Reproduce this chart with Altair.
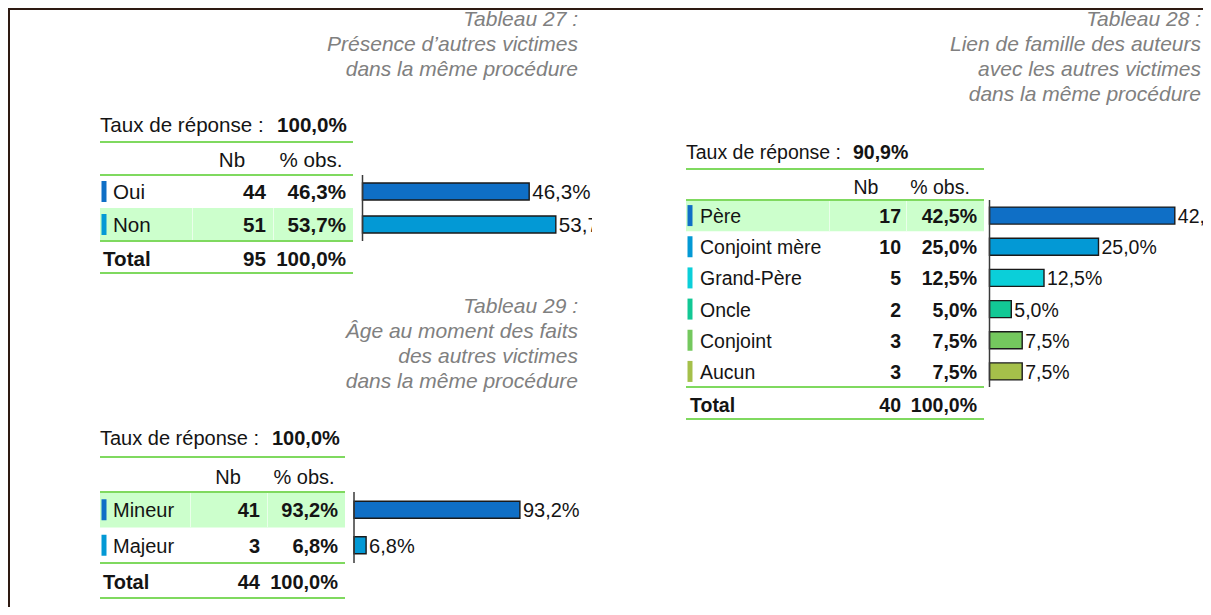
import altair as alt
import pandas as pd

# ---------------- data ----------------
t27_title = ["Tableau 27 :", "Présence d’autres victimes", "dans la même procédure"]
t27_cats = ["Oui", "Non"]
t27_nb = [44, 51]
t27_pct = [46.3, 53.7]
t27_rate = 100.0

t28_title = ["Tableau 28 :", "Lien de famille des auteurs", "avec les autres victimes",
             "dans la même procédure"]
t28_cats = ["Père", "Conjoint mère", "Grand-Père", "Oncle", "Conjoint", "Aucun"]
t28_nb = [17, 10, 5, 2, 3, 3]
t28_pct = [42.5, 25.0, 12.5, 5.0, 7.5, 7.5]
t28_rate = 90.9

t29_title = ["Tableau 29 :", "Âge au moment des faits", "des autres victimes",
             "dans la même procédure"]
t29_cats = ["Mineur", "Majeur"]
t29_nb = [41, 3]
t29_pct = [93.2, 6.8]
t29_rate = 100.0

header_labels = ["Nb", "% obs."]
rate_label = "Taux de réponse :"
total_label = "Total"

# ---------------- styles ----------------
PALETTE = ["#0f6fc6", "#0399d5", "#0bcfd9", "#12c895", "#74c85e", "#a5c04a"]
GREEN = "#7fd95f"
HL = "#ccffcc"
TXT = "#141414"
TITLE = "#808080"
FONT = "Liberation Sans"
O = 8      # page margin offset
DY = 1.5   # small vertical nudge for text


def fmt(v):
    return f"{v:.1f}%".replace(".", ",")


ONE = pd.DataFrame({"k": [0]})


def label(text, x, y, size, bold=False, italic=False, align="left", color=TXT):
    return alt.Chart(ONE).mark_text(
        font=FONT, fontSize=size, fontWeight="bold" if bold else "normal",
        fontStyle="italic" if italic else "normal", align=align,
        baseline="middle", color=color, dy=DY,
    ).encode(x=alt.value(x - O), y=alt.value(y - O), text=alt.value(text))


def hline(x0, x1, y, color=GREEN, w=2):
    return alt.Chart(ONE).mark_rule(color=color, strokeWidth=w).encode(
        x=alt.value(x0 - O), x2=alt.value(x1 - O), y=alt.value(y - O))


def vline(x, y0, y1, color="#3a3a3a", w=1.5):
    return alt.Chart(ONE).mark_rule(color=color, strokeWidth=w).encode(
        x=alt.value(x - O), y=alt.value(y0 - O), y2=alt.value(y1 - O))


def table(title, cats, nb, pct, rate, L):
    fs = L["fs"]
    df = pd.DataFrame({"cat": cats, "nb": nb, "pct": pct})
    df["nb_s"] = df["nb"].astype(str)
    df["pct_s"] = [fmt(v) for v in pct]
    df["hl"] = df["nb"] == df["nb"].max()

    yb = alt.Y("cat:N", sort=None, axis=None,
               scale=alt.Scale(type="band", domain=cats,
                               range=[L["band"][0] - O, L["band"][1] - O],
                               paddingInner=0, paddingOuter=0))
    col = alt.Color("cat:N", legend=None,
                    scale=alt.Scale(domain=cats, range=PALETTE[:len(cats)]))
    xb = alt.X("pct:Q", axis=None,
               scale=alt.Scale(domain=[0, 100], nice=False, zero=True,
                               range=[L["ax"] - O, L["ax"] - O + 100 * L["ppp"]]))
    base = alt.Chart(df)
    layers = []
    # title lines
    for i, t in enumerate(title):
        layers.append(label(t, L["title_x"], L["title_y"] + 25 * i, 21,
                            italic=True, align="right", color=TITLE))
    # response rate
    layers.append(label(rate_label, L["x0"], L["rate_y"], fs))
    layers.append(label(fmt(rate), L["rate_vx"], L["rate_y"], fs, bold=True))
    # header
    layers.append(label(header_labels[0], L["hdr_nb"], L["hdr_y"], fs, align="center"))
    layers.append(label(header_labels[1], L["hdr_pct"], L["hdr_y"], fs, align="center"))
    # highlight row (modal category)
    hl = base.transform_filter("datum.hl")
    layers.append(hl.mark_rect(color=HL).encode(
        x=alt.value(L["x0"] - O), x2=alt.value(L["x1"] - O), y=yb))
    for sx in L["seps"]:
        layers.append(hl.mark_rect(color="#eaffea").encode(
            x=alt.value(sx - O), x2=alt.value(sx + 1 - O), y=yb))
    # green lines
    for yy in L["lines"]:
        layers.append(hline(L["x0"], L["x1"], yy))
    # markers
    layers.append(base.mark_bar(height=21, orient="horizontal").encode(
        x=alt.value(L["mk"] - O), x2=alt.value(L["mk"] + 5 - O), y=yb, color=col))
    # labels
    layers.append(base.mark_text(font=FONT, fontSize=fs, align="left", baseline="middle",
                                 color=TXT, dy=DY).encode(
        x=alt.value(L["lab"] - O), y=yb, text="cat:N"))
    layers.append(base.mark_text(font=FONT, fontSize=fs, fontWeight="bold", align="right",
                                 baseline="middle", color=TXT, dy=DY).encode(
        x=alt.value(L["nb_r"] - O), y=yb, text="nb_s:N"))
    layers.append(base.mark_text(font=FONT, fontSize=fs, fontWeight="bold", align="right",
                                 baseline="middle", color=TXT, dy=DY).encode(
        x=alt.value(L["pct_r"] - O), y=yb, text="pct_s:N"))
    # total row
    layers.append(label(total_label, L["tot_x"], L["tot_y"], fs, bold=True))
    layers.append(label(str(sum(nb)), L["nb_r"], L["tot_y"], fs, bold=True, align="right"))
    layers.append(label(fmt(round(sum(pct), 1)), L["pct_r"], L["tot_y"], fs, bold=True,
                        align="right"))
    # bars
    layers.append(base.mark_bar(height=17, stroke="#1a1a1a", strokeWidth=1.4).encode(
        x=xb, y=yb, color=col))
    layers.append(base.mark_text(font=FONT, fontSize=fs, align="left", baseline="middle",
                                 dx=3, dy=DY, color=TXT).encode(
        x=xb, y=yb, text="pct_s:N"))
    layers.append(vline(L["ax"], L["band"][0], L["band"][1]))
    # clipping edge of the original table picture
    if L.get("mask"):
        m = L["mask"]
        layers.append(alt.Chart(ONE).mark_rect(color="white").encode(
            x=alt.value(m[0] - O), x2=alt.value(m[1] - O),
            y=alt.value(m[2] - O), y2=alt.value(m[3] - O)))
    return layers


L27 = dict(fs=20.6, title_x=578, title_y=18, x0=100, x1=353, rate_y=124, rate_vx=277,
           hdr_y=159, hdr_nb=232, hdr_pct=311, lines=[142, 175, 241, 273],
           band=(175, 241), mk=101.5, lab=113, nb_r=266, pct_r=346, tot_x=103, tot_y=258,
           ax=362.5, ppp=3.6, seps=[192, 273], mask=(592, 660, 176, 241))
L29 = dict(fs=20, title_x=578, title_y=305, x0=100, x1=345, rate_y=437, rate_vx=272,
           hdr_y=476, hdr_nb=228, hdr_pct=304, lines=[457, 492, 563, 598],
           band=(492, 563), mk=101.5, lab=113, nb_r=260, pct_r=338, tot_x=103, tot_y=581,
           ax=354, ppp=1.78, seps=[190, 267])
L28 = dict(fs=19.5, title_x=1201, title_y=18, x0=686, x1=984, rate_y=151, rate_vx=853,
           hdr_y=186, hdr_nb=866, hdr_pct=940, lines=[169, 200, 387, 419],
           band=(200, 387), mk=687.5, lab=700, nb_r=901, pct_r=977, tot_x=690, tot_y=404,
           ax=989.5, ppp=4.36, seps=[829, 906])

layers = []
# frame
layers.append(hline(O, 1211, O + 1, color="#2e1a12", w=2))
layers.append(vline(O + 1, O, 615, color="#2e1a12", w=2))
layers += table(t27_title, t27_cats, t27_nb, t27_pct, t27_rate, L27)
layers += table(t29_title, t29_cats, t29_nb, t29_pct, t29_rate, L29)
layers += table(t28_title, t28_cats, t28_nb, t28_pct, t28_rate, L28)

chart = alt.layer(*layers).resolve_scale(
    x="independent", y="independent", color="independent"
).properties(
    width=1195, height=599, autosize=alt.AutoSizeParams(type="none"), padding=0
).configure_view(stroke=None)

chart.save("out.html", embed_options={"renderer": "svg", "actions": False})
